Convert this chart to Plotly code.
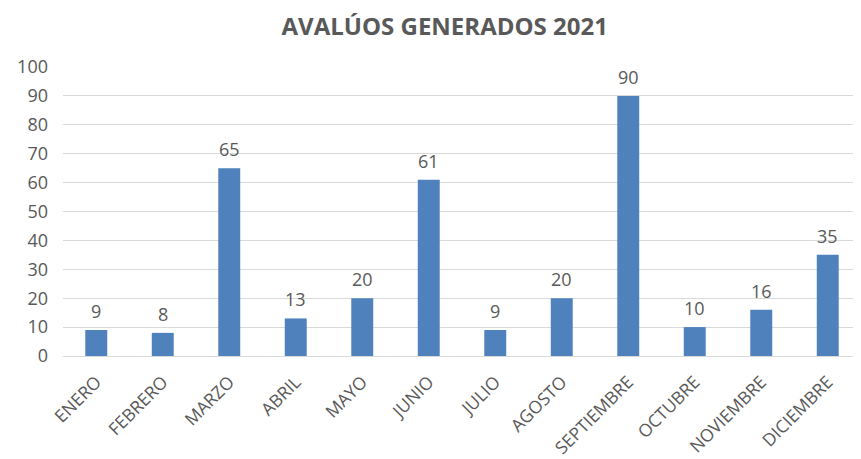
import plotly.graph_objects as go

months = ["ENERO", "FEBRERO", "MARZO", "ABRIL", "MAYO", "JUNIO", "JULIO",
          "AGOSTO", "SEPTIEMBRE", "OCTUBRE", "NOVIEMBRE", "DICIEMBRE"]
values = [9, 8, 65, 13, 20, 61, 9, 20, 90, 10, 16, 35]
y_ticks = list(range(0, 101, 10))

gray = "#595959"
fig = go.Figure(go.Bar(
    x=months, y=values, marker=dict(color="#4F81BD", line=dict(width=0)),
    width=0.33, hoverinfo="x+y",
))
for m, v in zip(months, values):
    fig.add_annotation(x=m, y=v, text=str(v), showarrow=False, yanchor="bottom",
                       yshift=5, font=dict(size=18, color=gray))
fig.update_layout(
    width=853, height=451,
    margin=dict(l=55, r=0, t=59, b=103, autoexpand=False),
    paper_bgcolor="white", plot_bgcolor="white",
    font=dict(family="Open Sans, Liberation Sans, sans-serif", color=gray),
    title=dict(text="<b>AVALÚOS GENERADOS 2021</b>", x=0.512, xanchor="center",
               y=0.958, yanchor="middle", font=dict(size=24, color=gray)),
    showlegend=False,
)
fig.update_xaxes(tickangle=-45, tickfont=dict(size=17.5, color=gray), automargin=False,
                 showline=True, linecolor="#d9d9d9", ticks="", ticklabelstandoff=8)
fig.update_yaxes(range=[0, 100], tickvals=y_ticks, showgrid=True, gridcolor="#d9d9d9",
                 tickfont=dict(size=18, color=gray), zeroline=False, ticks="",
                 ticklabelstandoff=14, automargin=False)
fig.write_html("out.html")
